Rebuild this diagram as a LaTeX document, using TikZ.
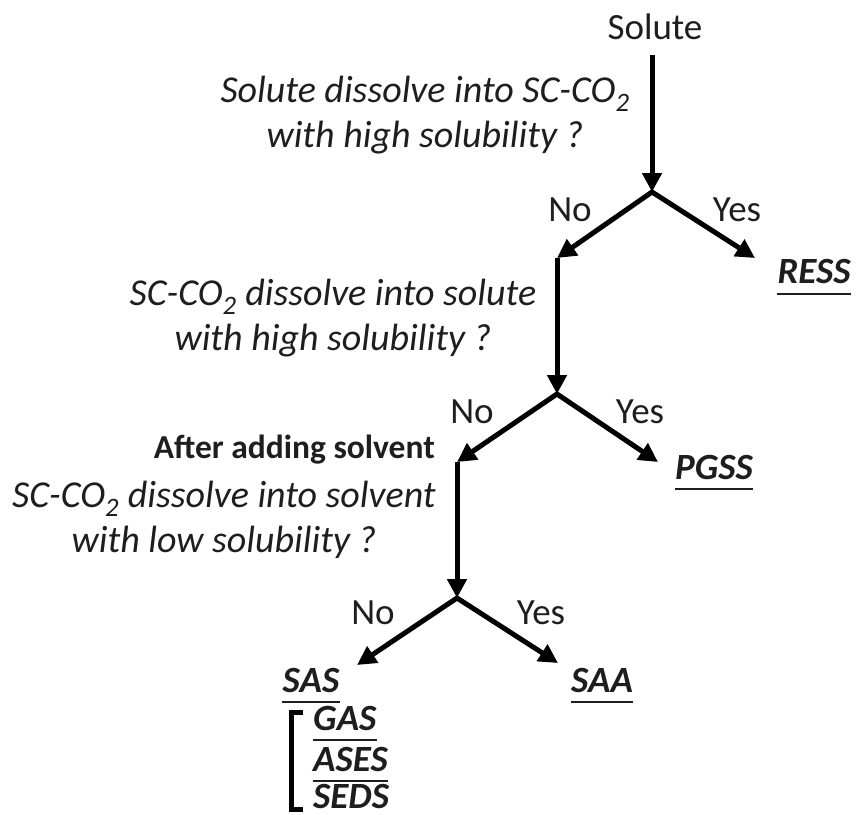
\documentclass[tikz,border=0pt]{standalone}
\usepackage{fontspec}
\setmainfont{Carlito}
\usetikzlibrary{arrows.meta}
\definecolor{txt}{HTML}{1E1E1E}
\begin{document}
\begin{tikzpicture}[x=1pt,y=-1pt,
  lbl/.style={inner sep=0pt, text=txt, font=\fontsize{37}{44}\selectfont},
  qst/.style={inner sep=0pt, text=txt, font=\fontsize{38}{45}\selectfont\itshape, align=center},
  res/.style={inner sep=0pt, text=txt, font=\fontsize{37}{44}\selectfont\bfseries\itshape},
  note/.style={inner sep=0pt, text=txt, font=\fontsize{33.5}{40}\selectfont\bfseries},
  arr/.style={line width=5pt, -{Triangle[length=19pt,width=19pt]}},
  fork/.style={line width=5pt, {Triangle[length=19pt,width=19pt]}-{Triangle[length=19pt,width=19pt]}, line join=miter},
  uline/.style={line width=2pt, draw=txt},
  brk/.style={line width=5pt}]
\useasboundingbox (0,0) rectangle (858,814);

% text nodes
\node[lbl] (solute) at (655,27) {Solute};
\node[qst] (q1) at (425,115) {Solute dissolve into SC-CO\textsubscript{2}\\with high solubility ?};
\node[qst] (q2) at (333,318) {SC-CO\textsubscript{2} dissolve into solute\\with high solubility ?};
\node[note, anchor=east] (after) at (435,450) {After adding solvent};
\node[qst] (q3) at (224,520) {SC-CO\textsubscript{2} dissolve into solvent\\with low solubility ?};

\node[lbl] (n1) at (570,210) {No};
\node[lbl] (y1) at (737,210) {Yes};
\node[lbl] (n2) at (472,412) {No};
\node[lbl] (y2) at (640,412) {Yes};
\node[lbl] (n3) at (373,613) {No};
\node[lbl] (y3) at (541,613) {Yes};

\node[res] (ress) at (814,272) {RESS};
\node[res] (pgss) at (714,467) {PGSS};
\node[res] (sas) at (311,680) {SAS};
\node[res] (saa) at (602,680) {SAA};
\node[res, anchor=west] (gas) at (313,718) {GAS};
\node[res, anchor=west] (ases) at (313,759) {ASES};
\node[res, anchor=west] (seds) at (313,796) {SEDS};

% coordinates of the tree
\coordinate (top1) at (652,55);
\coordinate (b1) at (652,192);
\coordinate (l1) at (557,258);
\coordinate (r1) at (755,258);
\coordinate (b2) at (557,394);
\coordinate (l2) at (457,462);
\coordinate (r2) at (658,462);
\coordinate (b3) at (457,598);
\coordinate (l3) at (357,665);
\coordinate (r3) at (558,663);

% connectors
\draw[arr] (top1) -- (b1);
\draw[fork] (l1) -- (b1) -- (r1);
\draw[arr] (l1) -- (b2);
\draw[fork] (l2) -- (b2) -- (r2);
\draw[arr] (l2) -- (b3);
\draw[fork] (l3) -- (b3) -- (r3);

% underlines
\foreach \n in {ress,pgss,sas,saa,gas,ases}
  \draw[uline] ([yshift=-10pt]\n.south west) -- ([yshift=-10pt]\n.south east);

% bracket
\coordinate (bk1) at (303,712);
\coordinate (bk2) at (291,712);
\coordinate (bk3) at (291,809);
\coordinate (bk4) at (303,809);
\draw[brk] (bk1) -- (bk2) -- (bk3) -- (bk4);
\end{tikzpicture}
\end{document}
